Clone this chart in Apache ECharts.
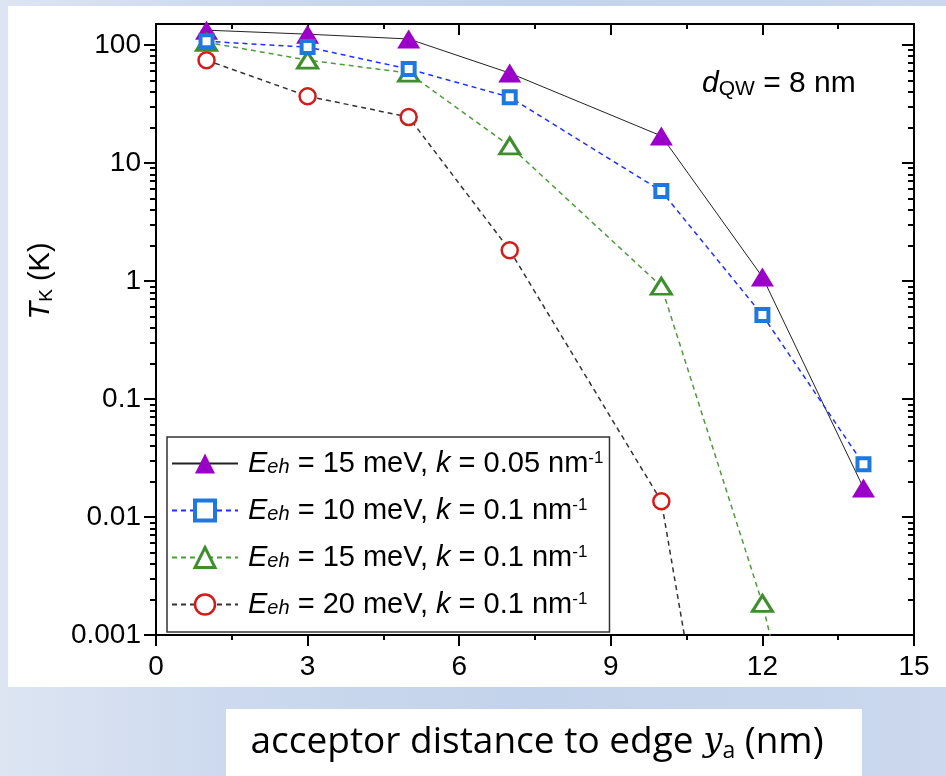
<!DOCTYPE html>
<html>
<head>
<meta charset="utf-8">
<script src="https://cdn.jsdelivr.net/npm/echarts@6/dist/echarts.min.js"></script>
<style>
  html, body { margin: 0; padding: 0; }
  #chart { width: 946px; height: 776px; }
</style>
</head>
<body>
<div id="chart"></div>
<script>
// Acceptor distance to the edge, y_a (nm)
const distance = [1, 3, 5, 7, 10, 12, 14];

// Kondo temperature T_K (K) for each parameter set
const tkE15k005 = [133, 123, 112, 57.6, 16.9, 1.08, 0.0176];
const tkE10k01 = [107, 95.6, 62.3, 36, 5.77, 0.513, 0.028];
const tkE15k01 = [105, 74.2, 57.6, 13.9, 0.90, 0.00185, 5e-7];
const tkE20k01 = [74, 36.7, 24.4, 1.82, 0.0136, 1.4e-7];

// Axis ticks
const xTicks = [0, 3, 6, 9, 12, 15];
const yMajorTicks = [0.001, 0.01, 0.1, 1, 10, 100];
const yMinorTicks = [];
for (let e = -3; e <= 1; e++) {
  for (let m = 2; m <= 9; m++) yMinorTicks.push(Number((m * Math.pow(10, e)).toPrecision(2)));
}

// Legend parameters
const seriesNames = ['E15_k005', 'E10_k01', 'E15_k01', 'E20_k01'];
const legendEnergy = ['15', '10', '15', '20'];
const legendK = ['0.05', '0.1', '0.1', '0.1'];

const FONT = '"Liberation Sans", Arial, sans-serif';
const pts = arr => arr.map((v, i) => [distance[i], v]);

const chart = echarts.init(document.getElementById('chart'));

const axisLine = { show: true, onZero: false, lineStyle: { color: '#000', width: 2 } };
const hiddenLine = { show: true, onZero: false, lineStyle: { color: 'rgba(0,0,0,0)', width: 0 } };

function yAxisDef(position, major, inside) {
  return {
    type: 'log',
    logBase: 10,
    min: 0.001,
    max: 150,
    position: position,
    axisLine: major ? axisLine : hiddenLine,
    splitLine: { show: false },
    axisTick: {
      show: true,
      inside: inside,
      length: major ? 12 : 6,
      customValues: major ? yMajorTicks : yMinorTicks,
      lineStyle: { color: '#000', width: 2 }
    },
    axisLabel: (major && position === 'left') ? {
      show: true,
      customValues: yMajorTicks,
      margin: 15,
      fontFamily: FONT,
      fontSize: 28,
      color: '#000',
      formatter: v => String(v)
    } : { show: false }
  };
}

function xAxisDef(position, inside) {
  return {
    type: 'value',
    min: 0,
    max: 15,
    interval: 3,
    position: position,
    axisLine: axisLine,
    splitLine: { show: false },
    axisTick: { show: true, inside: inside, length: 11, lineStyle: { color: '#000', width: 2 } },
    minorTick: { show: true, splitNumber: 2, length: 5, lineStyle: { color: '#000', width: 2 } },
    minorSplitLine: { show: false },
    axisLabel: position === 'bottom' ? {
      show: true,
      margin: 18,
      fontFamily: FONT,
      fontSize: 28,
      color: '#000',
      customValues: xTicks
    } : { show: false }
  };
}

function lineSeries(name, values, symbol, size, itemStyle, lineStyle, z) {
  return {
    name: name,
    type: 'line',
    data: pts(values),
    xAxisIndex: 0,
    yAxisIndex: 0,
    symbol: symbol,
    symbolSize: size,
    showSymbol: true,
    showAllSymbol: true,
    clip: true,
    z: z,
    itemStyle: itemStyle,
    lineStyle: lineStyle,
    emphasis: { disabled: true }
  };
}

const legendRich = {
  E: { fontFamily: FONT, fontSize: 29, fontStyle: 'italic', lineHeight: 28, color: '#000', padding: [0, 0, 0, 5] },
  sub: { fontFamily: FONT, fontSize: 20, fontStyle: 'italic', lineHeight: 10, verticalAlign: 'bottom', color: '#000' },
  n: { fontFamily: FONT, fontSize: 29, lineHeight: 28, color: '#000' },
  k: { fontFamily: FONT, fontSize: 29, fontStyle: 'italic', lineHeight: 28, color: '#000' },
  sup: { fontFamily: FONT, fontSize: 17, lineHeight: 14, verticalAlign: 'top', color: '#000' }
};

// marker outline widths used by the legend icons
const legendBorder = [0, 4, 3, 2.5];

chart.setOption({
  animation: false,
  backgroundColor: {
    type: 'linear', x: 0, y: 0, x2: 1, y2: 0,
    colorStops: [
      { offset: 0, color: '#dde5f3' },
      { offset: 0.25, color: '#ccd9ee' },
      { offset: 0.55, color: '#c3d3eb' },
      { offset: 1, color: '#cbd8ee' }
    ]
  },
  grid: { left: 156, right: 32, top: 24, bottom: 141, containLabel: false, outerBoundsMode: 'none' },
  xAxis: [xAxisDef('bottom', false), xAxisDef('top', true)],
  yAxis: [yAxisDef('left', true, false), yAxisDef('left', false, false), yAxisDef('right', true, true), yAxisDef('right', false, true)],
  legend: {
    show: true,
    orient: 'vertical',
    left: 167,
    top: 437,
    padding: [12, 6, 13, 4],
    itemWidth: 66,
    itemHeight: 25,
    itemGap: 18,
    align: 'left',
    selectedMode: false,
    backgroundColor: '#fff',
    borderColor: '#333',
    borderWidth: 1.5,
    data: seriesNames.map((n, i) => ({ name: n, itemStyle: { borderWidth: legendBorder[i] } })),
    formatter: name => {
      const i = seriesNames.indexOf(name);
      return '{E|E}{sub|eh}{n| = ' + legendEnergy[i] + ' meV, }{k|k}{n| = ' + legendK[i] + ' nm}{sup|-1}';
    },
    textStyle: { fontFamily: FONT, fontSize: 29, lineHeight: 28, color: '#000', rich: legendRich }
  },
  graphic: [
    { type: 'rect', silent: true, z: -10, shape: { x: 8, y: 6, width: 938, height: 681 }, style: { fill: '#fff' } },
    { type: 'rect', silent: true, z: -10, shape: { x: 226, y: 709, width: 636, height: 67 }, style: { fill: '#fff' } },
    {
      // y-axis title
      type: 'text', silent: true, z: 10, x: 41, y: 281, rotation: Math.PI / 2,
      style: {
        text: '{t|T}{s|K}{n| (K)}',
        align: 'center',
        verticalAlign: 'middle',
        fill: '#000',
        rich: {
          t: { fontFamily: FONT, fontSize: 29, fontStyle: 'italic', lineHeight: 30, fill: '#000' },
          s: { fontFamily: FONT, fontSize: 19, lineHeight: 10, verticalAlign: 'bottom', fill: '#000' },
          n: { fontFamily: FONT, fontSize: 29, lineHeight: 30, fill: '#000' }
        }
      }
    },
    {
      type: 'text', silent: true, z: 10, x: 702, y: 84,
      style: {
        text: '{d|d}{s|QW}{n| = 8 nm}',
        verticalAlign: 'middle',
        fill: '#000',
        rich: {
          d: { fontFamily: FONT, fontSize: 30, fontStyle: 'italic', lineHeight: 32, fill: '#000' },
          s: { fontFamily: FONT, fontSize: 21, lineHeight: 10, verticalAlign: 'bottom', fill: '#000' },
          n: { fontFamily: FONT, fontSize: 30, lineHeight: 32, fill: '#000' }
        }
      }
    },
    {
      // x-axis title
      type: 'text', silent: true, z: 10, x: 537, y: 742,
      style: {
        text: '{n|acceptor distance to edge }{y|y}{a|a}{n| (nm)}',
        align: 'center',
        verticalAlign: 'middle',
        fill: '#000',
        rich: {
          n: { fontFamily: '"Open Sans", Lato, sans-serif', fontSize: 37, lineHeight: 42, fill: '#000' },
          y: { fontFamily: '"DejaVu Serif", serif', fontSize: 34, fontStyle: 'italic', lineHeight: 42, fill: '#000' },
          a: { fontFamily: '"Open Sans", Lato, sans-serif', fontSize: 23, lineHeight: 12, verticalAlign: 'bottom', fill: '#000' }
        }
      }
    }
  ],
  series: [
    lineSeries(seriesNames[0], tkE15k005, 'triangle', [23, 19],
      { color: '#9a00c8' }, { color: '#222', width: 1, type: 'solid' }, 3),
    lineSeries(seriesNames[1], tkE10k01, 'rect', [12, 12],
      { color: '#fff', borderColor: '#1f78de', borderWidth: 4 }, { color: '#2030ff', width: 1.5, type: [5, 4] }, 5),
    lineSeries(seriesNames[2], tkE15k01, 'triangle', [20, 16],
      { color: '#fff', borderColor: '#3e8e2e', borderWidth: 3 }, { color: '#4f9a3a', width: 1.5, type: [5, 4] }, 4),
    lineSeries(seriesNames[3], tkE20k01, 'circle', [16, 16],
      { color: '#fff', borderColor: '#d41a1a', borderWidth: 2.5 }, { color: '#333', width: 1.5, type: [5, 4] }, 3)
  ]
});
</script>
</body>
</html>
